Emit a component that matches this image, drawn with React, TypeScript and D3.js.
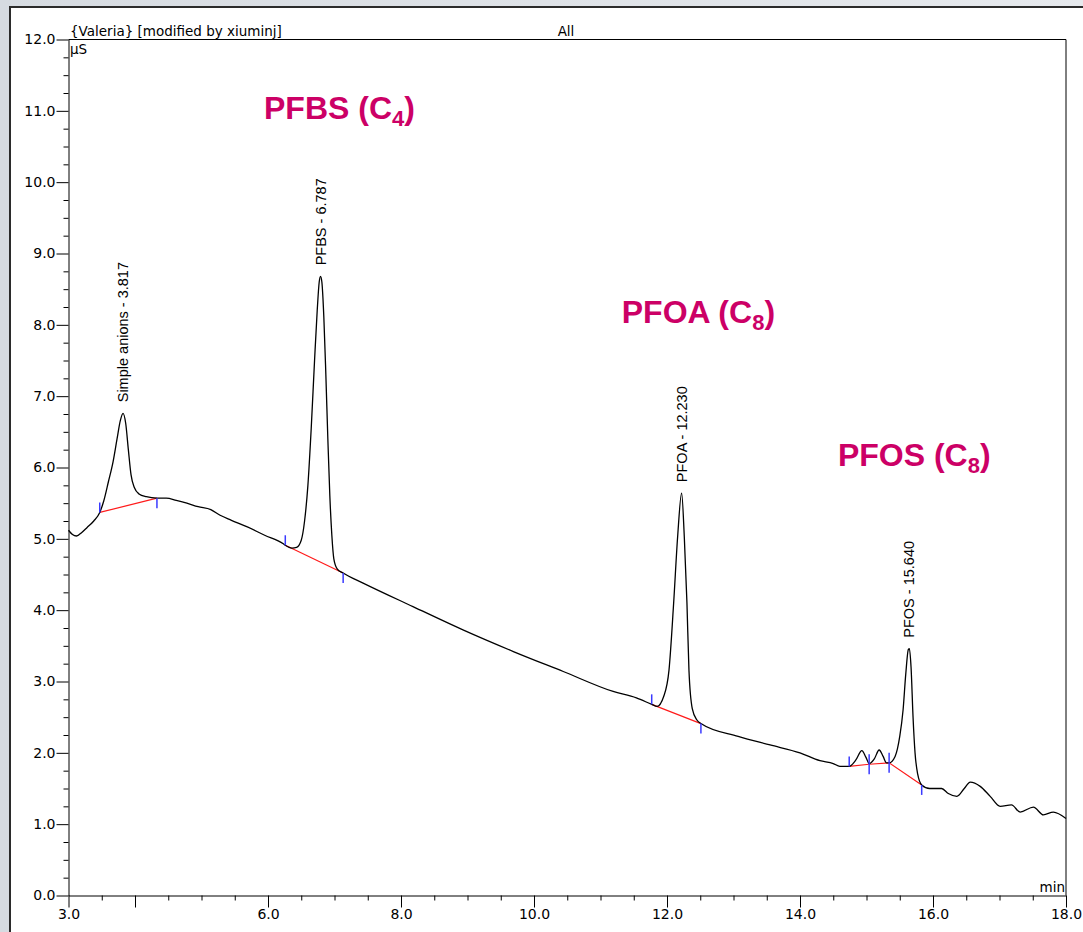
import React, { useEffect, useRef } from 'react';
import * as d3 from 'd3';

const WIDTH = 1083;
const HEIGHT = 932;

// chromatogram trace (time in min, conductivity in µS)
const traceTime = [
  3.0, 3.06, 3.12, 3.2, 3.28, 3.38, 3.47, 3.53, 3.6, 3.67, 3.73, 3.78, 3.82, 3.86, 3.9, 3.94, 3.99, 4.06,
  4.17, 4.33, 4.47, 4.62, 4.78, 4.95, 5.14, 5.28, 5.45, 5.68, 5.95, 6.23, 6.26, 6.36, 6.43, 6.5, 6.55,
  6.6, 6.65, 6.7, 6.74, 6.77, 6.79, 6.81, 6.84, 6.87, 6.9, 6.93, 6.96, 6.99, 7.04, 7.13, 7.43, 8.18,
  8.94, 9.69, 10.44, 11.19, 11.54, 11.77, 11.85, 11.95, 12.03, 12.1, 12.16, 12.22, 12.26, 12.3, 12.33,
  12.38, 12.45, 12.51, 13.07, 13.55, 14.0, 14.3, 14.5, 14.6, 14.74, 14.84, 14.93, 14.99, 15.04, 15.12,
  15.19, 15.25, 15.3, 15.34, 15.43, 15.5, 15.55, 15.59, 15.63, 15.645, 15.67, 15.7, 15.73, 15.77, 15.83,
  15.95, 16.13, 16.23, 16.36, 16.47, 16.56, 16.71, 16.86, 17.01, 17.18, 17.31, 17.51, 17.66, 17.81, 18.0,
];
const traceValue = [
  5.12, 5.06, 5.04, 5.09, 5.16, 5.25, 5.37, 5.53, 5.8, 6.08, 6.4, 6.66, 6.76, 6.62, 6.25, 5.9, 5.72, 5.63,
  5.59, 5.57, 5.57, 5.54, 5.5, 5.45, 5.41, 5.33, 5.26, 5.17, 5.05, 4.93, 4.91, 4.87, 4.88, 4.98, 5.25,
  5.75, 6.55, 7.5, 8.2, 8.6, 8.68, 8.6, 8.1, 7.3, 6.4, 5.6, 5.05, 4.72, 4.58, 4.52, 4.38, 4.05,
  3.72, 3.42, 3.14, 2.86, 2.77, 2.68, 2.65, 2.79, 3.16, 4.1, 5.03, 5.64, 5.03, 4.1, 3.16,
  2.62, 2.46, 2.41, 2.23, 2.11, 2.0, 1.89, 1.85, 1.81, 1.81, 1.9, 2.03, 1.94, 1.85, 1.92,
  2.04, 1.95, 1.86, 1.86, 1.95, 2.23, 2.6, 3.1, 3.45, 3.46, 3.2, 2.5, 2.0, 1.7, 1.55,
  1.5, 1.5, 1.43, 1.39, 1.5, 1.59, 1.53, 1.39, 1.25, 1.27, 1.17, 1.24, 1.13, 1.17, 1.08,
];

// integration baselines (red), one list per peak group
const baselineTime = [
  [3.47, 4.33],
  [6.26, 7.13],
  [11.77, 12.51],
  [14.74, 15.04, 15.34, 15.83],
];
const baselineValue = [
  [5.37, 5.57],
  [4.91, 4.52],
  [2.68, 2.41],
  [1.81, 1.84, 1.86, 1.55],
];

// peak delimiters (blue marks)
const delimTime = [3.47, 4.33, 6.26, 7.13, 11.77, 12.51, 14.74, 15.04, 15.34, 15.83];
const delimValue = [5.37, 5.57, 4.91, 4.52, 2.68, 2.41, 1.81, 1.84, 1.86, 1.55];
const delimSide = ['start', 'end', 'start', 'end', 'start', 'end', 'start', 'both', 'both', 'end'];

// named peaks
const peakNames = ['Simple anions', 'PFBS', 'PFOA', 'PFOS'];
const peakTimes = [3.82, 6.79, 12.22, 15.64];
const peakRetention = ['3.817', '6.787', '12.230', '15.640'];
const peakHeights = [6.76, 8.68, 5.64, 3.46];

// big magenta compound annotations (anchored in data units)
const annoText = ['PFBS (C', 'PFOA (C', 'PFOS (C'];
const annoSub = ['4', '8', '8'];
const annoTime = [5.94, 11.32, 14.57];
const annoValue = [10.88, 8.03, 6.02];

const xMajorTicks = [3, 4, 6, 8, 10, 12, 14, 16, 18];
const xTickLabels = ['3.0', '', '6.0', '8.0', '10.0', '12.0', '14.0', '16.0', '18.0'];
const yMajorTicks = [0, 1, 2, 3, 4, 5, 6, 7, 8, 9, 10, 11, 12];

const SMALL_FONT = '"DejaVu Sans", sans-serif';
const LABEL_FONT = '"Liberation Sans", Arial, sans-serif';

const App = () => {
  const ref = useRef<SVGSVGElement>(null);

  useEffect(() => {
    const svg = d3.select(ref.current);
    svg.selectAll('*').remove();

    const x = d3.scaleLinear().domain([3, 18]).range([68.5, 1066]);
    const y = d3.scaleLinear().domain([0, 12]).range([895.5, 39.5]);

    // grey window background + white page
    const grad = svg
      .append('defs')
      .append('linearGradient')
      .attr('id', 'bg')
      .attr('x1', 0)
      .attr('y1', 0)
      .attr('x2', 1)
      .attr('y2', 0);
    grad.append('stop').attr('offset', 0).attr('stop-color', '#d6dbe1');
    grad.append('stop').attr('offset', 1).attr('stop-color', '#e6e9ed');
    svg.append('rect').attr('width', WIDTH).attr('height', HEIGHT).attr('fill', 'url(#bg)');
    svg
      .append('rect')
      .attr('x', 10)
      .attr('y', 7)
      .attr('width', WIDTH - 10)
      .attr('height', HEIGHT - 7)
      .attr('fill', '#fff');
    svg
      .append('path')
      .attr('d', `M10,${HEIGHT} V7 H${WIDTH}`)
      .attr('fill', 'none')
      .attr('stroke', '#2b2b2b')
      .attr('stroke-width', 2);

    // y axis: minor ticks every 0.25, major every 1.0
    const yMinor = d3.range(0, 12.001, 0.25).filter(v => v % 1 !== 0);
    svg
      .append('g')
      .attr('transform', `translate(${x(3)},0)`)
      .call(d3.axisLeft(y).tickValues(yMinor).tickSize(5).tickFormat(() => ''))
      .call(g => g.select('.domain').remove());
    const yAxis = svg
      .append('g')
      .attr('transform', `translate(${x(3)},0)`)
      .call(
        d3
          .axisLeft(y)
          .tickValues(yMajorTicks)
          .tickSize(12)
          .tickSizeOuter(0)
          .tickPadding(1)
          .tickFormat(d3.format('.1f'))
      );
    yAxis.selectAll('text').attr('font-family', SMALL_FONT).attr('font-size', 14).attr('fill', '#000');

    // x axis: minor ticks every 0.5 min
    const xMinor = d3.range(3.5, 18, 0.5).filter(v => !xMajorTicks.includes(v));
    svg
      .append('g')
      .attr('transform', `translate(0,${y(0)})`)
      .call(d3.axisBottom(x).tickValues(xMinor).tickSize(5).tickFormat(() => ''))
      .call(g => g.select('.domain').remove());
    const xAxis = svg
      .append('g')
      .attr('transform', `translate(0,${y(0)})`)
      .call(
        d3
          .axisBottom(x)
          .tickValues(xMajorTicks)
          .tickSize(12)
          .tickSizeOuter(0)
          .tickPadding(2)
          .tickFormat((d, i) => xTickLabels[i])
      );
    xAxis.selectAll('text').attr('font-family', SMALL_FONT).attr('font-size', 14).attr('fill', '#000');

    // frame top + right
    svg
      .append('path')
      .attr('d', `M${x(3)},${y(12)} H${x(18)} V${y(0)}`)
      .attr('fill', 'none')
      .attr('stroke', '#000')
      .attr('stroke-width', 1);

    // header texts
    const txt = (s, tx, ty, anchor = 'start') =>
      svg
        .append('text')
        .attr('x', tx)
        .attr('y', ty)
        .attr('text-anchor', anchor)
        .attr('font-family', SMALL_FONT)
        .attr('font-size', 13.5)
        .text(s);
    txt('{Valeria} [modified by xiuminj]', 70, 36);
    txt('All', 566, 36, 'middle');
    txt('µS', 70, 54);
    txt('min', 1065, 892, 'end');

    // integration baselines
    const straight = d3.line<number[]>().x(d => x(d[0])).y(d => y(d[1]));
    baselineTime.forEach((ts, k) => {
      svg
        .append('path')
        .attr('d', straight(ts.map((t, i) => [t, baselineValue[k][i]])))
        .attr('fill', 'none')
        .attr('stroke', '#ff1a1a')
        .attr('stroke-width', 1.2);
    });

    // the trace
    const line = d3
      .line<number>()
      .x(d => x(d))
      .y((d, i) => y(traceValue[i]))
      .curve(d3.curveMonotoneX);
    svg
      .append('path')
      .attr('d', line(traceTime))
      .attr('fill', 'none')
      .attr('stroke', '#000')
      .attr('stroke-width', 1.3);

    // delimiters
    delimTime.forEach((t, i) => {
      const py = y(delimValue[i]);
      const side = delimSide[i];
      const y1 = side === 'end' ? py : py - 10;
      const y2 = side === 'start' ? py : py + 10;
      svg
        .append('line')
        .attr('x1', x(t))
        .attr('x2', x(t))
        .attr('y1', y1)
        .attr('y2', y2)
        .attr('stroke', '#3a3aff')
        .attr('stroke-width', 1.5);
    });

    // peak labels, rotated
    peakNames.forEach((name, i) => {
      const px = x(peakTimes[i]);
      const py = y(peakHeights[i]) - 11;
      svg
        .append('text')
        .attr('transform', `translate(${px},${py}) rotate(-90)`)
        .attr('dy', '0.35em')
        .attr('font-family', LABEL_FONT)
        .attr('font-size', 14.5)
        .text(`${name} - ${peakRetention[i]}`);
    });

    // compound annotations
    annoText.forEach((s, i) => {
      const t = svg
        .append('text')
        .attr('x', x(annoTime[i]))
        .attr('y', y(annoValue[i]))
        .attr('font-family', LABEL_FONT)
        .attr('font-weight', 'bold')
        .attr('font-size', 32)
        .attr('fill', '#cc0066');
      t.append('tspan').text(s);
      t.append('tspan').attr('font-size', 22).attr('dy', 7).text(annoSub[i]);
      t.append('tspan').attr('dy', -7).text(')');
    });
  }, []);

  return <svg ref={ref} width={WIDTH} height={HEIGHT} style={{ position: 'absolute', left: 0, top: 0 }} />;
};

export default App;
